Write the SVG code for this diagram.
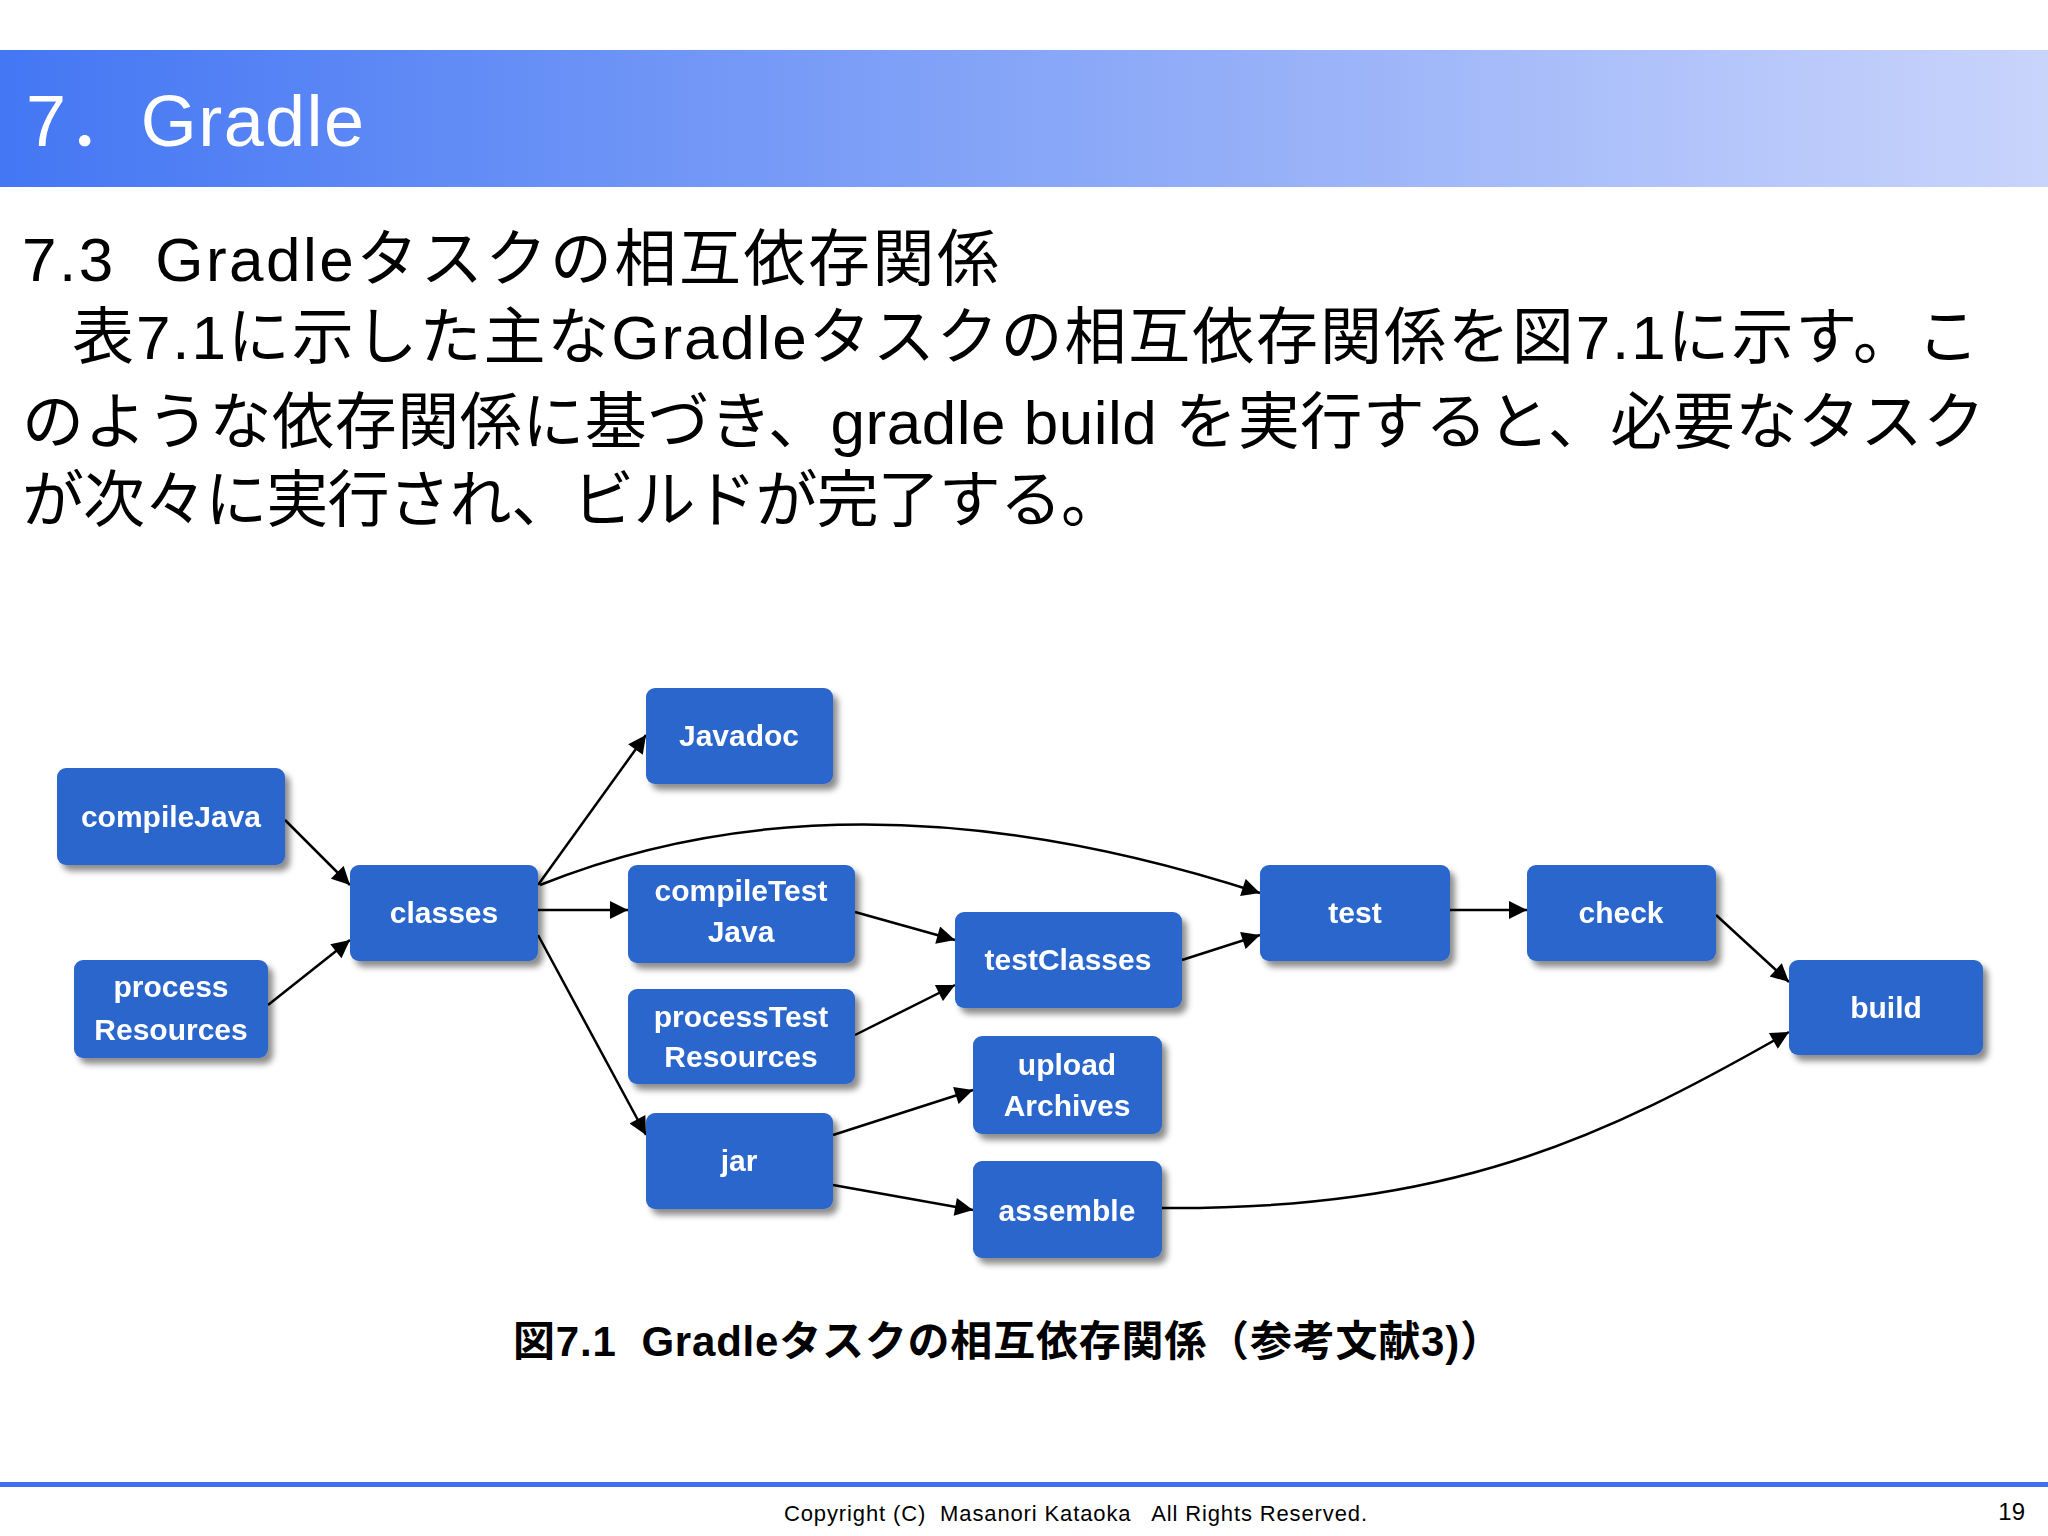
<svg xmlns="http://www.w3.org/2000/svg" width="2048" height="1536" viewBox="0 0 2048 1536">
<defs>
<linearGradient id="hg" x1="0" x2="1" y1="0" y2="0"><stop offset="0" stop-color="#4477f4"/><stop offset="1" stop-color="#c9d4fb"/></linearGradient>
<filter id="sh" x="-10%" y="-10%" width="130%" height="140%"><feDropShadow dx="5" dy="6" stdDeviation="3" flood-color="#000" flood-opacity="0.45"/></filter>
<marker id="ar" viewBox="0 0 10 10" refX="10" refY="5" markerWidth="20" markerHeight="18" markerUnits="userSpaceOnUse" orient="auto"><path d="M0,0 L10,5 L0,10 z" fill="#000"/></marker>
<style>
.t{font-family:"Liberation Sans","Noto Sans CJK JP",sans-serif;white-space:pre}
.n rect{fill:#2a66cc}
.n text{font-family:"Liberation Sans",sans-serif;font-weight:bold;font-size:30px;fill:#fff;text-anchor:middle}
#edges path{fill:none;stroke:#000;stroke-width:2.5;marker-end:url(#ar)}
</style>
</defs>
<rect width="2048" height="1536" fill="#fff"/>
<rect x="0" y="50" width="2048" height="137" fill="url(#hg)"/>
<text class="t" x="26" y="146" font-size="72" fill="#fff" textLength="338" lengthAdjust="spacing">7．Gradle</text>
<text class="t" x="22" y="281" font-size="62" fill="#000" textLength="977" lengthAdjust="spacing">7.3  Gradleタスクの相互依存関係</text>
<text class="t" x="72" y="359" font-size="62" fill="#000" textLength="1907" lengthAdjust="spacing">表7.1に示した主なGradleタスクの相互依存関係を図7.1に示す。こ</text>
<text class="t" x="22" y="444" font-size="62" fill="#000" textLength="1963" lengthAdjust="spacing">のような依存関係に基づき、gradle build を実行すると、必要なタスク</text>
<text class="t" x="22" y="522" font-size="62" fill="#000" textLength="1101" lengthAdjust="spacing">が次々に実行され、ビルドが完了する。</text>
<g id="edges">
<path d="M285,820 L350,885"/>
<path d="M268,1005 L350,940"/>
<path d="M538,885 L646,735"/>
<path d="M540,885 Q850,760 1260,893"/>
<path d="M538,910 L628,910"/>
<path d="M538,935 L646,1135"/>
<path d="M855,912 L955,940"/>
<path d="M855,1035 L955,985"/>
<path d="M1182,960 L1260,935"/>
<path d="M833,1135 L973,1090"/>
<path d="M833,1185 L973,1210"/>
<path d="M1162,1208 C1450,1210 1600,1140 1789,1032"/>
<path d="M1450,910 L1527,910"/>
<path d="M1716,915 L1789,982"/>
</g>
<g class="n" filter="url(#sh)">
<g id="compileJava"><rect x="57" y="768" width="228" height="97" rx="9"/><text x="171" y="827">compileJava</text></g>
<g id="processResources"><rect x="74" y="960" width="194" height="98" rx="9"/><text x="171" y="997">process</text><text x="171" y="1040">Resources</text></g>
<g id="classes"><rect x="350" y="865" width="188" height="96" rx="9"/><text x="444" y="923">classes</text></g>
<g id="javadoc"><rect x="646" y="688" width="187" height="96" rx="9"/><text x="739" y="746">Javadoc</text></g>
<g id="compileTestJava"><rect x="628" y="865" width="227" height="98" rx="9"/><text x="741" y="901">compileTest</text><text x="741" y="942">Java</text></g>
<g id="processTestResources"><rect x="628" y="989" width="227" height="95" rx="9"/><text x="741" y="1027">processTest</text><text x="741" y="1067">Resources</text></g>
<g id="jar"><rect x="646" y="1113" width="187" height="96" rx="9"/><text x="739" y="1171">jar</text></g>
<g id="testClasses"><rect x="955" y="912" width="227" height="96" rx="9"/><text x="1068" y="970">testClasses</text></g>
<g id="uploadArchives"><rect x="973" y="1036" width="189" height="98" rx="9"/><text x="1067" y="1075">upload</text><text x="1067" y="1116">Archives</text></g>
<g id="assemble"><rect x="973" y="1161" width="189" height="97" rx="9"/><text x="1067" y="1221">assemble</text></g>
<g id="test"><rect x="1260" y="865" width="190" height="96" rx="9"/><text x="1355" y="923">test</text></g>
<g id="check"><rect x="1527" y="865" width="189" height="96" rx="9"/><text x="1621" y="923">check</text></g>
<g id="build"><rect x="1789" y="960" width="194" height="95" rx="9"/><text x="1886" y="1018">build</text></g>
</g>
<text class="t" x="513" y="1356" font-size="42" font-weight="bold" textLength="989" lengthAdjust="spacing">図7.1  Gradleタスクの相互依存関係（参考文献3)）</text>
<rect x="0" y="1482" width="2048" height="5" fill="#3d6ff0"/>
<text class="t" x="784" y="1521" font-size="22" textLength="583" lengthAdjust="spacing">Copyright (C)  Masanori Kataoka   All Rights Reserved.</text>
<text class="t" x="2025" y="1520" font-size="24" text-anchor="end">19</text>
</svg>
